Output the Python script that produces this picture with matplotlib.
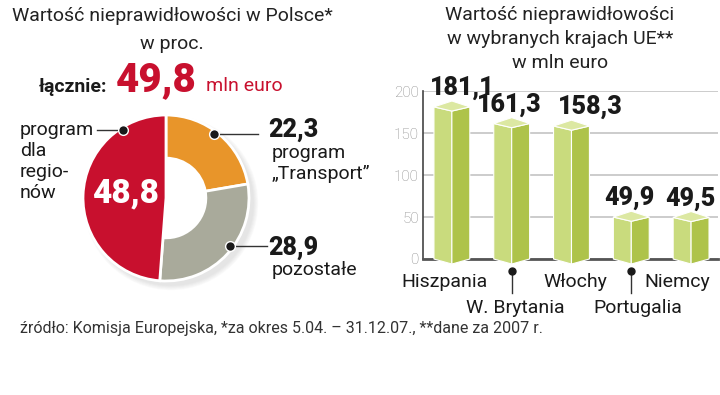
import numpy as np
import matplotlib.pyplot as plt
from matplotlib.patches import Polygon, Ellipse

plt.rcParams['font.family'] = ['Roboto', 'DejaVu Sans']

# --- dane: struktura nieprawidłowości w Polsce (w proc.)
sectors = ['program „Transport”', 'pozostałe', 'program dla regionów']
shares = [22.3, 28.9, 48.8]
total_pl = 49.8

# --- dane: wybrane kraje UE (mln euro)
countries = ['Hiszpania', 'W. Brytania', 'Włochy', 'Portugalia', 'Niemcy']
amounts = [181.1, 161.3, 158.3, 49.9, 49.5]
y_ticks = [0, 50, 100, 150, 200]

RED = '#C8102E'
ORANGE = '#E8952A'
GREY = '#A9AA9B'
DARK = '#1a1a1a'

W, H = 720, 395


def fx(x):
    return x / W


def fy(y):
    return 1 - y / H


def fmt(v):
    return f"{v:.1f}".replace('.', ',')


fig = plt.figure(figsize=(7.2, 3.95), dpi=100)

# ---------------- lewa część: wykres pierścieniowy ----------------
fig.text(fx(172), fy(16), 'Wartość nieprawidłowości w Polsce*', ha='center', va='center',
         fontsize=14, color='#222')
fig.text(fx(172), fy(44), 'w proc.', ha='center', va='center', fontsize=14, color='#222')
fig.text(fx(39), fy(92), 'łącznie:', ha='left', va='baseline', fontsize=14,
         fontweight='bold', color=DARK)
fig.text(fx(116), fy(91), fmt(total_pl), ha='left', va='baseline', fontsize=29,
         fontweight='heavy', color=RED)
fig.text(fx(206), fy(91), 'mln euro', ha='left', va='baseline', fontsize=14, color=RED)

cx, cy, r = 166, 198, 83
ax_pie = fig.add_axes([fx(cx - r), fy(cy + r), 2 * r / W, 2 * r / H])
# delikatny cień pod prawą dolną częścią pierścienia
for k in range(5):
    ax_pie.add_patch(Ellipse((0.06, -0.06), 2.0 + 0.025 * k, 2.0 + 0.025 * k, color='#999',
                             alpha=0.05, lw=0, zorder=0, clip_on=False))
ax_pie.add_patch(Ellipse((0, 0), 0.98, 0.98, color='white', lw=0, zorder=0.5))
wedges, _ = ax_pie.pie(shares, colors=[ORANGE, GREY, RED], startangle=90, counterclock=False,
                       wedgeprops=dict(width=0.52, edgecolor='white', linewidth=2))
wedges[2].set_width(None)  # czerwony wycinek pełny, bez dziury
ax_pie.set_xlim(-1, 1)
ax_pie.set_ylim(-1, 1)
ax_pie.axis('off')

# kropki i linie odnośników
for ang, x_end in [(122, -0.83), (53, 1.11), (-37, 1.22)]:
    dx, dy = 0.97 * np.cos(np.radians(ang)), 0.97 * np.sin(np.radians(ang))
    ax_pie.plot([dx, x_end], [dy, dy], color='#333', lw=1, clip_on=False, zorder=5)
    ax_pie.plot(dx, dy, 'o', ms=7, color=DARK, mec='white', mew=1, clip_on=False, zorder=6)

fig.text(fx(125), fy(193), fmt(shares[2]), ha='center', va='center', fontsize=24,
         fontweight='heavy', color='white')
for i, line in enumerate(['program', 'dla', 'regio-', 'nów']):
    fig.text(fx(20), fy(130 + 21 * i), line, ha='left', va='center', fontsize=14, color=DARK)

fig.text(fx(268), fy(130), fmt(shares[0]), ha='left', va='center', fontsize=18,
         fontweight='heavy', color=DARK)
fig.text(fx(272), fy(153), 'program', ha='left', va='center', fontsize=14, color=DARK)
fig.text(fx(272), fy(174), '„Transport”', ha='left', va='center', fontsize=14, color=DARK)
fig.text(fx(268), fy(248), fmt(shares[1]), ha='left', va='center', fontsize=18,
         fontweight='heavy', color=DARK)
fig.text(fx(272), fy(270), 'pozostałe', ha='left', va='center', fontsize=14, color=DARK)

# ---------------- prawa część: słupki 3D ----------------
for i, line in enumerate(['Wartość nieprawidłowości', 'w wybranych krajach UE**', 'w mln euro']):
    fig.text(fx(560), fy(15 + 24 * i), line, ha='center', va='center', fontsize=14, color='#222')

ax = fig.add_axes([fx(423), fy(259), (718 - 423) / W, (259 - 91) / H])
ax.set_xlim(-0.483, 4.45)
ax.set_ylim(0, 200)
ax.set_yticks(y_ticks)
ax.set_xticks([])
ax.grid(axis='y', color='#c4c4c4', lw=1.2)
ax.set_axisbelow(True)
for s in ['top', 'right']:
    ax.spines[s].set_visible(False)
ax.spines['left'].set_color('#444')
ax.spines['left'].set_linewidth(1.2)
ax.spines['bottom'].set_color('#555')
ax.spines['bottom'].set_linewidth(2)
ax.tick_params(axis='y', length=0, labelsize=11, labelcolor='#888', pad=3)
for lbl in ax.get_yticklabels():
    lbl.set_fontweight('light')

hw, d_front, d_back = 0.3, 5, 7
for i, v in enumerate(amounts):
    front = [(i - hw, v), (i, v - d_front), (i, -6), (i - hw, 0)]
    side = [(i, v - d_front), (i + hw, v), (i + hw, 0), (i, -6)]
    top = [(i - hw, v), (i, v - d_front), (i + hw, v), (i, v + d_back)]
    for pts, col in [(front, '#C9DB7D'), (side, '#AEC34A'), (top, '#DCE8A2')]:
        ax.add_patch(Polygon(pts, closed=True, facecolor=col, edgecolor='white', lw=0.8,
                             zorder=3, clip_on=False))

value_dx = [10, -2, 19, -2, -1]
for i, v in enumerate(amounts):
    ax.annotate(fmt(v), xy=(i, v), xytext=(value_dx[i], 12), textcoords='offset pixels',
                ha='center', va='baseline', fontsize=18, fontweight='heavy', color=DARK,
                annotation_clip=False, zorder=4)

label_dx = [-7, 4, 4, 7, -14]
for i, name in enumerate(countries):
    low = i % 2 == 1
    ax.annotate(name, xy=(i, 0), xytext=(label_dx[i], -49 if low else -23),
                textcoords='offset pixels', ha='center', va='center', fontsize=14,
                color=DARK, annotation_clip=False)
    if low:
        ax.plot([i, i], [-14, -40], color='#333', lw=1, clip_on=False)
        ax.plot(i, -14, 'o', ms=5, color=DARK, clip_on=False)

fig.text(fx(20), fy(328), 'źródło: Komisja Europejska, *za okres 5.04. – 31.12.07., **dane za 2007 r.',
         ha='left', va='center', fontsize=11.5, color='#333')

fig.savefig('out.png', dpi=100)
